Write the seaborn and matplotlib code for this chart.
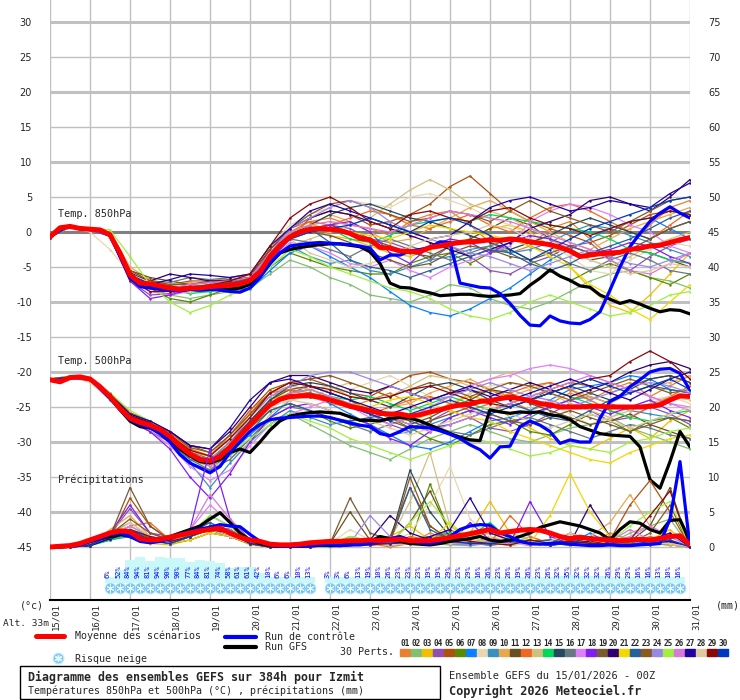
import numpy as np
import pandas as pd
import seaborn as sns
import matplotlib.pyplot as plt
from matplotlib.lines import Line2D
from matplotlib.patches import Rectangle
import matplotlib.transforms as mtransforms

# ---------------- data ----------------
hours_6h = np.arange(0, 385, 6)
hours_12h = np.arange(0, 385, 12)
date_labels = ['15/01', '16/01', '17/01', '18/01', '19/01', '20/01', '21/01', '22/01', '23/01',
               '24/01', '25/01', '26/01', '27/01', '28/01', '29/01', '30/01', '31/01']

t850_mean = [-0.7, 0.6, 0.8, 0.5, 0.4, 0.3, -0.4, -3.0, -6.1, -7.3, -7.4, -7.7, -8.0, -8.2, -8.0, -8.0,
             -7.8, -7.7, -7.6, -7.4, -6.9, -5.7, -3.5, -1.9, -0.7, 0.0, 0.4, 0.5, 0.4, 0.2, -0.2, -0.9,
             -1.1, -2.2, -2.3, -2.7, -2.8, -2.8, -2.2, -2.0, -1.7, -1.5, -1.4, -1.3, -1.1, -1.2, -1.0, -1.1,
             -1.4, -1.6, -1.8, -2.2, -2.7, -3.5, -3.3, -3.1, -3.0, -2.9, -2.5, -2.3, -2.0, -1.9, -1.5, -1.1, -0.8]
t850_control = [-0.7, 0.6, 0.8, 0.5, 0.4, 0.3, -0.5, -3.5, -6.5, -7.8, -8.0, -8.2, -8.3, -8.4, -8.2, -8.3,
                -8.2, -8.3, -8.5, -8.6, -8.0, -6.5, -4.5, -3.0, -2.0, -1.8, -1.6, -1.5, -1.6, -1.7, -1.8, -2.0,
                -2.3, -4.0, -3.3, -3.3, -2.7, -2.5, -2.2, -1.4, -1.5, -7.3, -7.6, -7.9, -8.0, -8.8, -10.2, -11.9,
                -13.3, -13.4, -12.0, -12.7, -13.0, -13.1, -12.5, -11.4, -8.3, -5.0, -2.1, -0.2, 1.5, 2.7, 3.6, 2.7, 2.0]
t850_gfs = [-0.7, 0.6, 0.8, 0.5, 0.4, 0.3, -0.5, -3.3, -6.5, -7.5, -7.8, -8.0, -8.2, -8.3, -8.2, -8.1,
            -8.0, -8.1, -8.2, -8.0, -7.5, -6.2, -4.5, -3.0, -2.5, -2.2, -2.0, -1.8, -1.7, -1.7, -1.9, -2.1,
            -2.8, -4.5, -7.3, -7.9, -8.0, -8.4, -8.7, -9.1, -9.0, -8.9, -8.9, -9.1, -9.2, -9.1, -9.0, -8.8,
            -7.6, -6.6, -5.4, -6.3, -6.9, -7.7, -7.9, -9.0, -9.6, -10.2, -9.8, -10.3, -10.9, -11.4, -11.1, -11.2, -11.7]

t500_mean = [-21.1, -21.4, -20.8, -20.7, -21.0, -22.1, -23.5, -25.2, -26.6, -27.2, -27.6, -28.2, -29.2, -30.6,
             -31.7, -32.5, -32.7, -32.1, -30.7, -29.1, -27.6, -26.1, -24.7, -23.9, -23.5, -23.4, -23.4, -23.6,
             -24.0, -24.4, -24.9, -25.2, -25.5, -25.9, -26.0, -26.0, -26.3, -26.1, -25.7, -25.4, -25.0, -24.7,
             -24.6, -24.2, -24.1, -23.8, -23.6, -23.8, -24.1, -24.5, -24.7, -25.0, -25.0, -25.0, -24.9, -24.9,
             -25.0, -25.0, -25.0, -25.0, -24.9, -24.7, -24.0, -23.4, -23.5]
t500_control = [-21.1, -21.4, -20.8, -20.7, -21.0, -22.2, -23.6, -25.3, -26.8, -27.5, -28.0, -28.8, -30.0, -31.8,
                -33.0, -33.7, -34.4, -33.5, -31.5, -30.0, -28.5, -27.5, -26.8, -26.6, -26.5, -26.4, -26.3, -26.3,
                -26.5, -26.9, -27.3, -27.6, -27.8, -28.8, -29.1, -28.5, -27.8, -27.9, -28.0, -28.4, -28.9, -29.5,
                -30.4, -31.1, -32.3, -30.7, -30.6, -27.8, -27.0, -27.6, -28.5, -30.2, -29.7, -30.0, -30.0, -26.6,
                -24.2, -23.5, -22.1, -21.1, -20.0, -19.6, -19.5, -20.2, -22.6]
t500_gfs = [-21.1, -21.4, -20.8, -20.7, -21.0, -22.2, -23.7, -25.4, -27.0, -27.8, -28.0, -28.5, -29.5, -31.0,
            -32.0, -32.8, -33.0, -32.5, -31.5, -31.0, -31.5, -30.0, -28.3, -27.0, -26.3, -26.0, -25.8, -25.7,
            -25.8, -25.9, -26.4, -26.9, -26.9, -27.0, -26.6, -26.5, -26.6, -27.0, -27.6, -28.2, -28.8, -29.3,
            -29.7, -29.8, -25.4, -25.7, -25.9, -25.7, -25.8, -25.7, -26.1, -26.3, -26.8, -27.8, -28.3, -28.8,
            -29.0, -29.1, -29.2, -30.7, -35.4, -36.6, -32.8, -28.5, -30.7]

precip_mean = [0.0, 0.1, 0.2, 0.5, 1.0, 1.5, 2.0, 2.3, 2.2, 1.2, 1.0, 1.1, 1.4, 1.7, 2.0, 2.3, 2.5, 2.7, 2.0, 1.4,
               1.0, 0.8, 0.4, 0.3, 0.3, 0.4, 0.6, 0.7, 0.8, 0.8, 0.9, 0.9, 1.0, 0.9, 1.0, 1.1, 0.9, 0.9, 0.9, 1.1,
               1.4, 1.6, 1.9, 2.2, 2.5, 2.0, 2.2, 2.4, 2.5, 2.4, 2.0, 1.5, 1.2, 1.4, 1.2, 1.1, 1.0, 0.9, 1.0, 1.1,
               1.0, 1.2, 1.5, 1.6, 0.3]
precip_control = [0.0, 0.0, 0.1, 0.3, 0.8, 1.2, 1.8, 2.0, 1.5, 0.8, 0.6, 0.8, 1.2, 1.8, 2.2, 2.6, 2.8, 3.2, 3.0,
                  2.9, 1.8, 0.8, 0.3, 0.1, 0.1, 0.1, 0.2, 0.3, 0.3, 0.2, 0.3, 0.3, 0.5, 0.8, 1.2, 1.5, 1.0, 0.6,
                  0.5, 0.8, 1.5, 2.5, 3.0, 3.2, 3.1, 2.0, 1.5, 0.8, 0.5, 0.4, 0.5, 0.6, 0.4, 0.3, 0.2, 0.2, 0.3,
                  0.2, 0.2, 0.3, 0.4, 0.5, 4.0, 12.2, 0.0]
precip_gfs = [0.0, 0.0, 0.1, 0.4, 0.8, 1.2, 1.5, 1.8, 1.5, 1.0, 0.8, 1.0, 1.5, 2.0, 2.5, 3.0, 4.0, 4.9, 3.5, 2.0,
              1.0, 0.5, 0.2, 0.1, 0.1, 0.1, 0.2, 0.3, 0.2, 0.2, 0.3, 0.5, 0.8, 1.5, 1.2, 0.8, 0.5, 0.4, 0.3, 0.5,
              0.8, 1.0, 1.2, 1.5, 1.0, 0.8, 1.0, 1.5, 2.0, 2.8, 3.2, 3.6, 3.3, 3.0, 2.5, 2.0, 1.0, 2.5, 3.6, 3.4,
              2.5, 2.0, 3.8, 3.9, 0.9]

pert_names = ['%02d' % i for i in range(1, 31)]
pert_colors = ['#e88030', '#80c070', '#f0c000', '#9050b0', '#b05010', '#5a8a00', '#0a80ff', '#e8d8b0',
               '#3890c0', '#e8a850', '#6a5020', '#f06820', '#d0c080', '#00d858', '#284860', '#687880',
               '#e080f8', '#8020f0', '#7a5a30', '#300070', '#f0d800', '#2a609a', '#8a5a20', '#9a88e8',
               '#a0f040', '#d878d8', '#2000a0', '#e0c8a0', '#8a0808', '#0038c0']

# 850 hPa members, every 12 h
t850_members = [
    [-0.8, 0.9, 0.5, -0.2, -5.5, -7.0, -8.5, -8.2, -7.5, -7.0, -6.0, -2.5, 0.5, 1.5, 2.0, 1.0, 0.5, -0.5, 1.5, 2.5, 3.0, 1.0, -1.5, -3.0, -2.0, 0.5, 1.5, -1.0, -3.5, -2.0, 1.0, 3.5, 4.5],
    [-0.6, 0.7, 0.3, -0.6, -6.5, -8.0, -9.0, -9.5, -9.0, -8.5, -8.0, -6.0, -4.0, -5.0, -6.5, -7.5, -9.0, -9.5, -10.0, -9.0, -7.5, -8.0, -9.5, -10.5, -11.0, -10.0, -8.5, -7.0, -6.0, -5.5, -6.5, -7.0, -8.0],
    [-0.7, 0.8, 0.4, -0.3, -6.0, -7.5, -7.8, -8.5, -8.0, -7.5, -7.2, -3.0, -0.5, 0.0, -0.5, -1.0, -2.0, -3.0, -3.5, -2.5, -1.5, -1.0, 0.5, 1.0, 0.0, -2.0, -5.0, -8.0, -10.5, -11.5, -9.0, -6.0, -3.0],
    [-0.7, 0.8, 0.3, -0.5, -7.0, -9.0, -8.8, -8.0, -7.6, -7.4, -6.5, -3.5, -1.0, 0.5, 1.0, 0.5, -1.0, -1.5, -2.5, -4.0, -2.0, -3.5, -5.5, -6.0, -4.5, -3.5, -2.0, -1.5, -4.0, -5.5, -3.5, -2.0, -1.0],
    [-0.8, 0.9, 0.5, -0.2, -5.8, -7.2, -7.5, -7.0, -7.0, -7.3, -7.0, -4.0, -1.0, 2.0, 3.0, 2.5, 1.0, 1.5, 2.5, 4.0, 6.5, 8.0, 5.5, 3.0, 1.5, 0.5, -0.5, -1.5, -0.5, 1.0, 2.5, 3.0, 2.5],
    [-0.7, 0.8, 0.4, -0.4, -6.2, -8.0, -9.5, -10.0, -9.0, -8.0, -7.5, -5.0, -3.0, -4.0, -5.0, -5.5, -6.0, -6.0, -4.5, -3.5, -3.0, -4.5, -3.0, -2.5, -4.0, -5.5, -7.0, -5.5, -4.5, -5.5, -6.5, -7.5, -6.0],
    [-0.7, 0.7, 0.3, -0.6, -6.5, -7.8, -8.2, -8.5, -8.5, -8.0, -8.2, -5.5, -3.0, -2.0, -3.5, -5.0, -6.5, -8.5, -10.5, -11.5, -12.0, -11.0, -9.5, -8.0, -6.0, -4.0, -2.5, -1.0, 0.5, 1.5, 2.0, 0.5, -1.0],
    [-0.6, 0.6, 0.0, -2.5, -6.0, -7.0, -7.5, -7.5, -7.3, -7.0, -6.5, -2.0, 1.0, 2.5, 3.5, 4.5, 4.0, 3.5, 5.0, 5.5, 4.5, 3.5, 2.0, 1.0, -0.5, -2.0, -3.5, -5.5, -6.0, -4.0, -2.5, -1.5, -2.0],
    [-0.7, 0.8, 0.4, -0.3, -6.0, -7.3, -8.0, -7.8, -7.5, -7.7, -7.0, -4.0, -2.0, -3.5, -4.5, -4.0, -5.5, -6.0, -5.0, -4.0, -3.5, -2.5, -2.0, -3.0, -2.5, -1.5, 0.0, 1.0, 0.5, -0.5, -1.5, -2.5, -3.5],
    [-0.8, 0.9, 0.5, -0.1, -5.0, -6.8, -7.5, -7.2, -7.0, -6.5, -6.2, -2.5, 0.0, 1.0, 2.5, 1.5, 0.0, -1.5, -1.0, 0.5, 2.0, 3.5, 4.5, 3.0, 1.5, 0.0, -1.5, -2.5, -1.0, 0.5, 1.5, 2.5, 3.5],
    [-0.7, 0.8, 0.4, -0.5, -5.5, -6.5, -7.0, -7.5, -7.0, -6.8, -6.5, -3.0, -0.5, 0.5, 1.0, 0.0, -1.0, -2.0, -3.0, -3.5, -2.0, -1.0, 0.5, 2.0, 1.0, -1.0, -2.5, -4.0, -3.5, -2.5, -3.0, -4.0, -5.0],
    [-0.7, 0.8, 0.4, -0.4, -6.0, -7.5, -8.0, -7.8, -8.0, -7.5, -7.0, -3.5, 0.0, 1.5, 1.0, 2.0, 3.0, 2.5, 1.0, 0.5, 1.5, 2.5, 1.0, 0.0, 2.0, 3.5, 4.0, 3.0, 1.5, 0.0, -1.0, 1.0, 3.0],
    [-0.6, 0.7, 0.3, -0.5, -6.5, -8.0, -8.5, -8.0, -7.5, -7.0, -7.0, -4.5, -2.0, -1.0, 0.0, 1.0, 2.0, 4.0, 6.0, 7.5, 6.0, 4.0, 3.0, 2.0, 0.5, -1.0, -2.5, -4.0, -5.0, -3.5, -2.0, -1.0, 0.0],
    [-0.7, 0.8, 0.4, -0.4, -6.3, -7.6, -8.3, -8.8, -8.5, -7.8, -7.0, -3.0, 0.0, 1.0, 0.5, -1.0, -1.5, -0.5, 1.0, 1.5, 2.0, 1.5, 2.5, 2.0, 1.5, 1.0, 0.5, 0.0, -1.0, -2.5, -3.0, -4.0, -4.5],
    [-0.7, 0.8, 0.4, -0.3, -5.8, -7.3, -7.7, -7.9, -7.6, -7.4, -6.8, -3.2, -0.5, 1.0, 2.5, 3.5, 4.0, 3.0, 2.0, 1.5, 0.5, -0.5, -1.5, -2.5, -1.5, -0.5, 1.0, 2.0, 1.0, 0.0, -1.0, 0.5, 1.5],
    [-0.7, 0.8, 0.4, -0.4, -6.0, -7.0, -7.2, -6.5, -6.8, -6.5, -6.0, -3.0, -1.0, -1.5, -2.5, -3.5, -2.0, -1.0, -2.0, -3.0, -4.0, -3.0, -2.0, -1.0, -2.0, -3.0, -4.5, -5.5, -4.0, -3.0, -4.0, -5.5, -6.0],
    [-0.7, 0.8, 0.4, -0.5, -6.8, -8.5, -9.0, -8.5, -8.0, -7.5, -7.0, -4.0, -1.5, -2.0, -3.0, -4.5, -5.0, -4.0, -5.5, -6.5, -5.0, -4.0, -3.0, -2.0, 1.5, 3.0, 4.0, 3.5, 2.5, 1.0, 0.0, -2.0, -3.0],
    [-0.8, 0.8, 0.3, -0.6, -7.0, -9.5, -9.0, -8.2, -7.8, -7.5, -7.2, -4.0, -1.0, 0.5, 1.0, 1.5, 0.0, -3.0, -4.5, -2.0, -1.0, -1.5, -3.0, -1.5, -0.5, -1.0, -2.0, -3.0, -2.5, -1.5, -2.0, -3.5, -4.5],
    [-0.7, 0.8, 0.4, -0.4, -6.0, -7.5, -8.5, -8.0, -7.5, -7.2, -6.8, -3.5, -1.0, 0.0, -0.5, -1.5, -3.0, -4.0, -5.0, -4.5, -3.0, -2.0, -2.5, -3.5, -4.0, -3.0, -2.0, -3.0, -3.5, -2.5, -1.0, 0.5, 1.5],
    [-0.7, 0.8, 0.4, -0.3, -6.0, -7.0, -6.0, -6.5, -7.0, -7.0, -6.5, -2.5, 0.5, 2.0, 3.0, 2.5, 1.5, 0.5, -0.5, -1.5, -2.5, -3.5, -2.5, -1.5, 0.5, 1.5, 2.5, 4.5, 5.0, 4.0, 3.0, 5.0, 7.5],
    [-0.7, 0.8, 0.4, -0.4, -6.1, -7.4, -8.0, -8.2, -7.8, -7.6, -6.8, -3.0, 0.0, 1.0, 0.5, 0.0, -0.5, -1.0, 0.0, 1.0, 0.5, 0.0, -0.5, -1.0, -2.0, -3.5, -5.0, -7.5, -9.0, -11.0, -12.5, -10.0, -7.5],
    [-0.7, 0.8, 0.4, -0.4, -6.0, -7.3, -7.8, -8.0, -7.7, -7.3, -6.7, -3.3, -0.5, 0.5, -1.5, -4.0, -5.0, -5.5, -6.5, -5.5, -4.5, -3.5, -2.5, -3.0, -4.5, -5.5, -4.5, -3.0, -2.0, -1.0, 0.5, 2.0, 3.0],
    [-0.7, 0.8, 0.4, -0.4, -5.5, -7.0, -7.5, -7.5, -7.2, -7.0, -6.5, -2.5, 0.5, 2.5, 4.0, 4.5, 3.5, 2.5, 1.5, 2.0, 3.0, 2.5, 1.5, 3.0, 4.5, 3.0, 2.0, 1.0, 0.0, 1.5, 3.0, 4.5, 5.0],
    [-0.7, 0.8, 0.4, -0.4, -6.4, -7.8, -8.3, -8.0, -7.8, -7.5, -7.0, -3.0, 0.5, 2.0, 3.5, 4.5, 3.5, 1.5, 0.0, -1.0, -2.0, -3.0, -3.5, -4.5, -5.5, -4.5, -3.5, -2.5, -3.5, -4.5, -5.0, -4.0, -3.0],
    [-0.7, 0.8, 0.6, 0.3, -3.5, -7.5, -10.0, -11.5, -10.5, -9.0, -8.0, -5.0, -2.5, -3.5, -5.0, -6.0, -7.0, -8.0, -8.5, -9.5, -11.0, -12.0, -12.5, -11.5, -10.0, -9.0, -10.0, -11.0, -12.0, -11.5, -10.5, -9.0, -8.5],
    [-0.7, 0.8, 0.4, -0.4, -6.3, -7.8, -8.0, -7.5, -7.2, -7.0, -6.5, -3.0, 0.0, 1.0, 1.5, 1.0, 0.5, 0.0, 1.0, 2.0, 3.0, 2.5, 2.0, 1.5, 0.5, -0.5, -1.5, -2.5, -4.0, -5.5, -6.0, -4.5, -3.0],
    [-0.7, 0.8, 0.4, -0.3, -5.8, -7.5, -6.8, -6.0, -6.2, -6.5, -6.0, -2.0, 0.5, 3.0, 4.0, 3.0, 2.0, 1.0, 0.0, -1.0, -0.5, 1.5, 3.5, 4.5, 5.0, 4.0, 3.0, 3.5, 4.5, 4.0, 3.5, 5.5, 7.0],
    [-0.7, 0.8, 0.4, -0.4, -6.0, -7.2, -8.0, -8.5, -8.0, -7.5, -7.0, -3.5, -1.0, -3.0, -4.0, -5.0, -4.5, -3.5, -2.0, -1.0, -0.5, 0.0, 1.0, 0.5, -1.0, -2.0, -3.0, -4.0, -5.0, -6.0, -5.5, -4.5, -5.0],
    [-0.8, 0.9, 0.5, -0.5, -6.8, -8.5, -8.5, -8.0, -7.6, -7.0, -6.0, -2.0, 2.0, 4.0, 5.0, 3.5, 1.5, 0.5, 2.5, 3.0, 2.0, 1.5, 3.0, 3.5, 2.0, 1.0, 0.5, -0.5, 0.5, 1.5, 2.0, 3.0, 2.5],
    [-0.7, 0.8, 0.4, -0.4, -6.1, -7.5, -8.0, -8.0, -7.8, -7.7, -7.0, -3.5, -1.0, 0.0, 0.5, 1.0, 2.0, 1.0, 0.0, 1.5, 2.0, 1.0, -0.5, -2.5, -4.0, -2.5, -1.0, 0.5, 1.5, 2.5, 3.5, 4.5, 5.0],
]

# 500 hPa members, every 12 h
t500_members = [
    [-21.0, -20.7, -21.2, -23.0, -26.0, -27.5, -29.5, -31.5, -32.0, -29.5, -26.0, -23.5, -22.5, -23.5, -24.5, -25.0, -24.0, -23.0, -24.5, -26.0, -25.0, -23.0, -22.5, -24.0, -25.5, -24.5, -23.0, -24.0, -22.5, -21.5, -23.5, -22.0, -20.5],
    [-21.2, -20.9, -21.0, -23.8, -27.0, -28.0, -30.0, -32.5, -33.5, -32.0, -29.5, -27.0, -26.0, -27.5, -29.0, -30.5, -31.5, -32.5, -31.0, -29.5, -28.5, -27.5, -28.5, -29.5, -30.0, -29.0, -28.0, -27.5, -26.5, -28.0, -29.0, -30.0, -31.0],
    [-21.1, -20.8, -21.1, -23.5, -26.5, -27.8, -29.0, -31.0, -32.5, -30.0, -27.0, -24.0, -23.0, -22.5, -23.5, -24.5, -25.5, -26.5, -27.0, -26.0, -24.5, -23.5, -24.0, -26.5, -28.0, -29.5, -30.5, -31.0, -29.5, -28.0, -29.5, -27.0, -25.5],
    [-21.1, -20.8, -21.0, -23.8, -27.0, -28.5, -30.0, -33.0, -34.0, -31.5, -28.0, -24.5, -23.0, -22.0, -23.0, -24.0, -26.0, -27.5, -28.5, -27.0, -25.5, -26.5, -28.0, -28.5, -27.5, -26.0, -24.5, -25.5, -27.0, -26.5, -25.0, -26.0, -27.5],
    [-21.0, -20.6, -20.9, -23.0, -25.8, -27.0, -28.5, -30.5, -31.5, -29.0, -25.5, -22.5, -21.5, -21.0, -22.0, -23.0, -23.5, -22.0, -20.5, -20.0, -21.0, -21.5, -22.5, -23.5, -24.0, -22.5, -21.5, -22.0, -23.0, -22.0, -21.0, -20.5, -21.5],
    [-21.1, -20.8, -21.0, -23.6, -26.8, -28.0, -30.0, -32.0, -33.0, -31.0, -28.5, -25.5, -24.5, -25.5, -27.0, -28.0, -27.5, -26.5, -28.0, -29.5, -30.5, -29.0, -27.5, -27.0, -28.5, -29.0, -27.5, -26.0, -27.0, -28.5, -27.0, -26.5, -28.0],
    [-21.1, -20.9, -21.1, -23.5, -26.5, -27.5, -29.5, -32.5, -33.0, -31.5, -29.0, -26.5, -24.0, -23.0, -24.5, -26.0, -27.5, -29.0, -30.5, -31.0, -30.0, -28.5, -27.0, -26.5, -25.5, -24.0, -22.5, -22.0, -21.5, -20.5, -21.0, -22.5, -23.0],
    [-21.0, -20.7, -21.5, -24.0, -26.0, -27.0, -29.0, -32.0, -33.5, -31.0, -27.5, -23.0, -21.5, -22.0, -23.0, -22.5, -21.5, -20.5, -22.0, -23.5, -24.5, -23.0, -22.0, -21.5, -22.5, -24.5, -26.0, -27.5, -26.5, -25.0, -24.0, -23.5, -24.5],
    [-21.1, -20.8, -21.0, -23.5, -26.7, -28.0, -29.5, -33.0, -36.5, -33.0, -30.0, -27.5, -25.5, -26.5, -27.5, -27.0, -28.0, -29.0, -28.5, -27.5, -26.5, -25.5, -26.0, -27.0, -26.5, -25.0, -24.0, -23.5, -24.5, -25.5, -26.0, -26.5, -27.0],
    [-21.0, -20.6, -20.9, -23.2, -26.0, -27.2, -28.8, -31.0, -32.0, -29.5, -26.0, -23.0, -22.0, -22.5, -22.0, -23.5, -24.0, -25.0, -24.5, -23.0, -22.0, -21.0, -22.5, -23.5, -22.5, -21.5, -22.5, -23.5, -24.5, -23.0, -22.0, -21.5, -20.5],
    [-21.1, -20.8, -21.1, -23.6, -26.5, -27.5, -29.0, -31.5, -32.5, -30.0, -27.0, -24.0, -22.5, -22.0, -23.0, -24.0, -25.5, -26.5, -27.5, -26.5, -25.0, -24.0, -22.5, -23.0, -24.5, -25.5, -26.5, -27.5, -27.0, -26.0, -27.5, -28.5, -29.5],
    [-21.1, -20.8, -21.0, -23.5, -26.0, -27.0, -28.5, -31.0, -32.0, -29.0, -25.5, -23.0, -22.5, -23.0, -23.5, -25.0, -26.0, -25.0, -24.0, -23.5, -24.5, -25.5, -24.5, -23.0, -22.0, -21.5, -22.5, -24.0, -25.5, -26.5, -25.0, -23.5, -22.0],
    [-21.1, -20.8, -21.0, -23.7, -26.8, -28.0, -29.5, -32.0, -33.5, -32.5, -30.0, -26.0, -24.0, -23.5, -22.5, -21.5, -22.5, -23.5, -22.0, -20.5, -21.0, -22.0, -21.0, -20.0, -21.5, -23.0, -24.5, -25.5, -26.5, -25.5, -24.5, -23.5, -24.0],
    [-21.1, -20.8, -21.1, -23.6, -26.6, -27.8, -29.5, -32.0, -33.0, -31.0, -27.5, -24.5, -23.0, -22.5, -23.5, -24.0, -23.5, -24.5, -25.5, -24.5, -23.5, -24.5, -25.5, -24.5, -23.5, -22.5, -23.5, -24.5, -25.5, -26.5, -27.0, -26.0, -25.5],
    [-21.1, -20.8, -21.0, -23.5, -26.5, -27.5, -29.2, -31.5, -32.5, -30.5, -27.0, -24.0, -22.0, -21.5, -22.0, -23.0, -24.0, -25.0, -23.5, -22.0, -21.5, -22.5, -24.0, -25.0, -24.0, -23.0, -22.0, -23.0, -24.0, -22.5, -21.0, -20.5, -21.5],
    [-21.1, -20.9, -21.1, -23.7, -26.8, -28.0, -30.0, -32.5, -34.0, -32.5, -29.5, -26.5, -25.0, -25.5, -26.5, -27.5, -28.5, -27.5, -26.5, -27.5, -28.5, -29.0, -28.0, -27.0, -26.5, -27.5, -28.5, -29.5, -28.5, -27.5, -28.0, -29.0, -29.5],
    [-21.1, -20.8, -21.0, -23.9, -27.2, -28.5, -30.5, -33.5, -35.5, -34.0, -30.5, -27.5, -26.0, -25.0, -24.0, -25.0, -26.5, -27.5, -26.5, -25.0, -23.5, -22.0, -21.0, -20.5, -19.5, -19.0, -19.5, -20.5, -21.5, -22.5, -23.5, -24.5, -25.0],
    [-21.2, -20.9, -21.2, -24.0, -27.0, -28.5, -31.0, -35.0, -38.0, -34.5, -30.0, -26.5, -25.0, -24.5, -25.5, -26.5, -27.5, -29.5, -30.5, -28.5, -26.5, -25.5, -26.5, -27.5, -26.0, -25.0, -24.0, -25.0, -26.0, -25.0, -24.0, -25.5, -26.5],
    [-21.1, -20.8, -21.1, -23.5, -26.4, -27.5, -29.2, -31.5, -32.5, -30.5, -27.5, -24.5, -23.5, -23.0, -24.0, -25.0, -26.0, -27.0, -28.0, -27.0, -26.0, -25.0, -26.0, -27.0, -27.5, -26.5, -25.5, -26.5, -27.5, -28.5, -27.5, -26.5, -27.0],
    [-21.0, -20.7, -21.0, -23.3, -26.2, -27.2, -28.5, -30.5, -31.0, -28.5, -25.0, -21.5, -20.5, -20.5, -21.5, -22.5, -23.0, -22.0, -23.0, -24.0, -23.0, -22.5, -23.5, -22.5, -21.5, -22.5, -23.5, -22.5, -21.5, -20.0, -19.0, -18.5, -19.5],
    [-21.1, -20.8, -21.0, -23.5, -26.6, -27.6, -29.2, -31.8, -32.8, -30.8, -27.8, -24.8, -23.5, -23.5, -24.0, -24.5, -25.0, -24.0, -23.5, -24.5, -25.5, -26.5, -27.0, -28.5, -29.5, -30.5, -31.5, -32.5, -33.0, -31.5, -30.5, -29.5, -29.0],
    [-21.1, -20.8, -21.0, -23.6, -26.6, -27.8, -29.5, -32.0, -33.0, -31.0, -28.0, -25.5, -24.5, -25.5, -26.5, -27.0, -26.5, -26.0, -27.0, -28.0, -27.5, -26.5, -25.5, -24.5, -25.5, -26.5, -27.0, -25.5, -24.0, -23.0, -22.0, -22.5, -23.0],
    [-21.0, -20.7, -20.9, -23.2, -26.0, -27.0, -28.6, -30.8, -31.5, -29.0, -26.0, -23.0, -21.5, -21.0, -20.5, -21.5, -22.5, -23.5, -22.5, -21.5, -22.5, -23.5, -22.5, -21.5, -22.0, -23.0, -24.0, -23.0, -22.0, -21.0, -22.0, -23.0, -22.5],
    [-21.1, -20.8, -21.0, -23.4, -26.4, -27.4, -29.0, -31.5, -32.5, -30.0, -26.5, -23.5, -22.0, -20.5, -20.0, -20.0, -21.0, -22.0, -23.0, -24.0, -23.5, -22.5, -21.5, -22.5, -23.5, -24.0, -25.0, -24.0, -23.0, -22.0, -21.5, -22.0, -23.0],
    [-21.0, -20.6, -20.8, -23.0, -25.5, -27.0, -29.0, -32.0, -33.0, -31.5, -29.5, -27.5, -26.0, -27.0, -28.0, -29.5, -30.5, -31.5, -32.5, -31.5, -30.5, -29.5, -30.0, -31.0, -32.0, -31.5, -30.5, -31.0, -31.5, -30.0, -29.5, -28.5, -28.0],
    [-21.1, -20.8, -21.0, -23.5, -26.5, -27.5, -29.0, -31.5, -33.5, -31.5, -28.0, -24.5, -23.0, -22.5, -23.5, -24.5, -25.5, -26.5, -27.5, -28.5, -27.5, -26.5, -25.5, -24.5, -23.5, -22.5, -21.5, -20.5, -21.5, -22.5, -23.5, -24.5, -25.5],
    [-21.0, -20.7, -20.9, -23.2, -26.0, -27.0, -28.5, -30.5, -31.0, -28.0, -24.0, -21.5, -21.0, -22.0, -23.0, -24.0, -25.0, -26.0, -25.0, -24.0, -23.0, -22.0, -23.0, -24.0, -23.0, -22.0, -21.0, -22.0, -23.0, -24.0, -22.5, -21.0, -20.0],
    [-21.1, -20.8, -21.0, -23.6, -26.7, -27.8, -29.5, -32.0, -33.0, -31.0, -28.0, -25.0, -24.0, -24.5, -25.5, -26.5, -27.0, -28.0, -29.0, -28.0, -27.0, -26.0, -25.0, -26.0, -27.0, -28.0, -27.0, -26.0, -27.0, -28.0, -27.0, -26.0, -25.0],
    [-21.1, -20.8, -21.0, -23.5, -26.3, -27.3, -29.0, -31.2, -32.0, -29.5, -26.5, -23.0, -21.5, -22.0, -22.5, -23.5, -24.0, -23.5, -22.5, -22.0, -23.0, -24.0, -24.5, -25.0, -24.0, -23.0, -22.0, -21.0, -20.5, -18.5, -17.0, -18.5, -21.0],
    [-21.1, -20.8, -21.0, -23.5, -26.5, -27.6, -29.2, -31.7, -32.8, -30.7, -27.6, -24.7, -23.5, -23.5, -24.0, -25.0, -26.0, -27.0, -26.0, -25.0, -24.0, -25.0, -26.0, -25.0, -24.0, -23.0, -22.0, -21.0, -22.0, -23.0, -22.0, -21.0, -22.5],
]

# precipitation members (mm), every 12 h
precip_members = [
    [0, 0, 0.3, 1.5, 2.5, 1.0, 0.5, 1.5, 3.0, 2.0, 0.5, 0, 0, 0, 0.5, 1.0, 0.5, 0.0, 0.5, 2.0, 1.0, 0.5, 1.5, 0.5, 0.3, 1.0, 0.5, 0.3, 2.0, 1.0, 0.5, 1.5, 0],
    [0, 0, 0.5, 2.0, 3.5, 1.5, 1.0, 2.0, 2.5, 1.5, 0.5, 0, 0, 0, 0, 0.5, 0.3, 0.5, 1.0, 0.5, 0.3, 0.2, 0.5, 0.5, 1.5, 0.5, 0.3, 1.0, 0.5, 2.0, 3.0, 4.0, 0],
    [0, 0, 0.2, 1.0, 2.0, 0.5, 0.3, 1.0, 2.0, 1.5, 0.3, 0, 0, 0, 0.3, 0.5, 1.0, 1.5, 3.0, 1.0, 0.5, 2.0, 6.5, 2.0, 1.0, 0.5, 0.3, 0.5, 1.5, 0.5, 1.0, 2.5, 0],
    [0, 0, 0.4, 1.8, 5.5, 2.0, 1.5, 2.5, 3.5, 2.0, 0.5, 0, 0, 0, 0.2, 1.5, 0.8, 0.5, 1.0, 1.5, 1.0, 0.5, 0.3, 0.5, 0.8, 1.0, 0.5, 0.3, 1.0, 0.5, 0.8, 1.0, 0],
    [0, 0, 0.3, 1.2, 7.0, 3.0, 1.0, 1.5, 2.5, 1.5, 0.5, 0, 0, 0, 0.3, 0.5, 0.3, 1.5, 8.5, 3.0, 1.0, 1.5, 2.0, 1.0, 0.5, 0.3, 1.5, 0.5, 1.0, 6.0, 9.5, 5.0, 0],
    [0, 0, 0.2, 1.5, 3.0, 1.5, 0.8, 1.8, 3.0, 2.5, 0.8, 0, 0, 0, 0.5, 1.0, 0.5, 0.3, 0.5, 9.0, 2.0, 1.0, 0.5, 0.8, 0.5, 0.3, 0.5, 0.3, 0.5, 1.0, 0.5, 0.3, 0],
    [0, 0, 0.3, 1.0, 2.5, 1.0, 0.5, 1.5, 4.5, 3.0, 0.5, 0, 0, 0, 0.3, 0.8, 0.5, 0.5, 0.8, 1.5, 2.0, 1.0, 0.5, 0.3, 0.5, 1.0, 0.5, 2.0, 0.5, 0.3, 0.5, 0.8, 0],
    [0, 0, 0.5, 1.5, 2.0, 1.0, 1.0, 2.0, 3.5, 2.0, 1.0, 0, 0, 0, 0.5, 2.5, 1.0, 0.5, 2.0, 6.0, 11.5, 4.0, 1.5, 1.0, 0.5, 0.5, 0.8, 0.5, 1.0, 0.5, 0.5, 0.5, 0],
    [0, 0, 0.2, 1.0, 1.5, 0.8, 0.5, 2.0, 3.0, 2.0, 0.5, 0, 0, 0, 0.2, 0.5, 0.3, 0.5, 1.0, 0.8, 0.5, 0.3, 0.5, 0.8, 1.0, 0.5, 0.3, 0.5, 0.8, 1.0, 0.5, 0.8, 0],
    [0, 0, 0.3, 2.5, 4.5, 1.5, 0.8, 1.5, 2.5, 1.5, 0.5, 0, 0, 0, 0.3, 0.8, 0.5, 0.3, 0.5, 1.0, 0.8, 1.5, 2.0, 1.0, 0.5, 0.5, 0.8, 1.5, 3.5, 7.5, 3.0, 1.5, 0],
    [0, 0, 0.2, 1.5, 2.5, 1.0, 0.5, 1.0, 2.0, 1.5, 0.5, 0, 0, 0, 0.5, 5.0, 1.0, 0.5, 3.5, 8.0, 2.0, 0.8, 0.5, 0.5, 0.5, 0.3, 0.5, 0.3, 0.5, 0.8, 3.0, 8.5, 0],
    [0, 0, 0.3, 1.5, 3.0, 3.5, 1.0, 1.5, 2.5, 2.0, 0.5, 0, 0, 0, 0.2, 0.5, 0.3, 0.5, 1.5, 1.0, 2.5, 1.0, 0.5, 4.5, 1.5, 0.5, 0.3, 0.5, 0.8, 0.5, 1.5, 0.8, 0],
    [0, 0, 0.3, 1.2, 2.0, 1.0, 0.5, 1.5, 2.5, 1.5, 0.5, 0, 0, 0, 0.3, 0.8, 0.5, 1.0, 6.5, 13.5, 3.0, 1.0, 0.5, 0.5, 0.3, 0.5, 0.3, 0.5, 0.5, 0.3, 0.5, 0.5, 0],
    [0, 0, 0.2, 1.0, 1.8, 1.5, 0.5, 1.5, 3.0, 2.0, 0.8, 0, 0, 0, 0.2, 0.5, 0.3, 0.5, 0.5, 1.0, 2.0, 1.5, 3.5, 1.0, 0.5, 0.3, 0.5, 0.3, 0.5, 1.0, 0.5, 0.8, 0],
    [0, 0, 0.3, 1.5, 2.5, 1.2, 0.8, 1.5, 3.0, 2.5, 0.5, 0, 0, 0, 0.3, 0.5, 0.5, 0.8, 11.0, 5.0, 1.5, 0.8, 0.5, 0.3, 0.5, 0.5, 0.3, 0.5, 0.8, 0.5, 0.3, 0.5, 0],
    [0, 0, 0.4, 1.5, 2.5, 1.0, 0.5, 1.5, 2.5, 1.5, 0.5, 0, 0, 0, 0.5, 0.8, 0.5, 0.5, 1.0, 1.5, 1.0, 0.5, 0.8, 0.5, 0.8, 0.5, 0.3, 0.5, 0.5, 0.3, 0.5, 0.8, 0],
    [0, 0, 0.3, 1.8, 3.0, 1.5, 1.0, 2.5, 6.0, 3.5, 1.0, 0, 0, 0, 0.3, 0.5, 0.5, 0.3, 0.5, 0.8, 0.5, 1.0, 0.8, 0.5, 0.5, 0.3, 0.5, 0.5, 0.8, 1.5, 3.0, 1.5, 0],
    [0, 0, 0.3, 2.0, 6.0, 2.0, 1.0, 2.5, 14.0, 4.0, 1.0, 0, 0, 0, 0.3, 0.5, 0.5, 0.5, 1.0, 0.5, 0.5, 3.5, 1.0, 0.5, 6.5, 1.5, 0.5, 0.3, 0.5, 0.8, 0.5, 0.5, 0],
    [0, 0, 0.3, 1.5, 8.5, 3.0, 1.0, 1.5, 3.0, 2.0, 0.5, 0, 0, 0, 0.5, 7.0, 2.0, 1.0, 0.5, 1.0, 1.5, 0.5, 0.3, 0.5, 1.0, 0.5, 2.0, 1.0, 0.5, 0.8, 0.5, 0.3, 0],
    [0, 0, 0.2, 1.2, 2.0, 1.0, 0.5, 1.5, 2.5, 1.5, 0.5, 0, 0, 0, 0.3, 0.5, 1.0, 4.5, 2.0, 1.0, 0.5, 0.5, 0.8, 1.0, 0.5, 0.3, 0.5, 6.0, 1.5, 0.5, 1.0, 2.0, 0],
    [0, 0, 0.3, 1.5, 2.5, 1.0, 0.5, 1.0, 2.0, 1.5, 0.5, 0, 0, 0, 0.2, 0.3, 0.5, 0.5, 0.8, 1.0, 3.5, 1.0, 0.5, 0.3, 0.5, 4.5, 10.5, 5.0, 1.5, 0.8, 0.5, 0.3, 0],
    [0, 0, 0.3, 1.5, 2.5, 1.5, 0.8, 2.0, 3.5, 2.0, 0.5, 0, 0, 0, 0.3, 0.5, 0.3, 0.8, 8.5, 2.5, 1.0, 0.5, 0.3, 0.5, 0.8, 1.0, 0.5, 0.8, 1.5, 0.5, 0.3, 0.5, 0],
    [0, 0, 0.4, 1.8, 4.0, 2.0, 1.0, 1.5, 2.5, 1.5, 0.5, 0, 0, 0, 0.3, 0.8, 0.5, 0.5, 10.0, 3.0, 1.0, 0.5, 0.8, 0.5, 0.3, 0.5, 1.0, 0.5, 0.3, 0.5, 2.0, 6.0, 0],
    [0, 0, 0.3, 1.5, 2.0, 1.0, 0.8, 1.5, 3.0, 2.5, 0.8, 0, 0, 0, 0.3, 0.5, 4.5, 1.5, 0.8, 1.0, 0.5, 0.3, 0.5, 0.8, 0.5, 0.3, 0.5, 0.3, 0.5, 0.8, 0.5, 0.5, 0],
    [0, 0, 0.3, 1.5, 2.5, 1.0, 0.5, 2.0, 4.5, 3.0, 0.5, 0, 0, 0, 0.5, 1.5, 1.0, 0.5, 3.5, 6.5, 3.0, 1.5, 0.5, 0.5, 0.8, 0.5, 0.3, 0.5, 0.8, 3.0, 5.0, 6.5, 0],
    [0, 0, 0.3, 1.5, 2.5, 1.0, 0.5, 2.5, 7.5, 4.0, 0.8, 0, 0, 0, 0.2, 0.5, 0.3, 0.5, 0.8, 1.0, 0.5, 0.5, 0.8, 0.5, 0.3, 0.5, 0.5, 0.3, 0.8, 2.5, 1.0, 0.5, 0],
    [0, 0, 0.2, 1.2, 2.0, 1.0, 0.5, 1.5, 3.0, 2.0, 0.5, 0, 0, 0, 0.3, 0.5, 0.8, 0.5, 0.5, 1.5, 2.5, 7.0, 2.0, 1.0, 0.5, 0.3, 0.5, 0.8, 0.5, 0.3, 0.5, 0.8, 0],
    [0, 0, 0.3, 1.5, 3.5, 1.5, 0.5, 1.5, 2.5, 1.5, 0.5, 0, 0, 0, 0.3, 0.5, 0.5, 0.3, 0.5, 0.8, 0.5, 1.0, 0.5, 0.3, 0.5, 0.8, 2.0, 1.0, 0.5, 0.3, 0.5, 0.5, 0],
    [0, 0, 0.3, 1.5, 2.5, 1.5, 0.8, 1.5, 2.5, 2.0, 0.5, 0, 0, 0, 0.3, 0.5, 0.3, 0.5, 1.0, 0.8, 1.5, 0.8, 0.5, 0.3, 1.0, 0.5, 0.8, 0.5, 0.5, 1.0, 4.5, 8.0, 0],
    [0, 0, 0.3, 1.5, 2.5, 1.0, 0.5, 1.5, 3.0, 2.0, 0.5, 0, 0, 0, 0.3, 0.5, 0.5, 0.5, 0.8, 1.0, 0.8, 0.5, 0.5, 0.8, 0.5, 0.3, 0.5, 1.5, 0.5, 0.3, 0.8, 1.0, 0],
]

# snow risk (%), every 6 h
snow_hours = list(range(36, 157, 6)) + list(range(168, 379, 6))
snow_pct = [6, 52, 84, 94, 81, 94, 90, 90, 77, 84, 81, 74, 58, 61, 61, 42, 10, 6, 6, 10, 13,
            3, 3, 6, 13, 19, 10, 26, 23, 23, 23, 19, 19, 29, 23, 29, 16, 26, 23, 26, 19, 26, 23, 26,
            32, 35, 32, 32, 32, 26, 29, 29, 16, 16, 13, 10, 16]


def members_frame(members):
    rows = []
    for name, vals in zip(pert_names, members):
        rows.append(pd.DataFrame({'hour': hours_12h, 'value': vals, 'member': name}))
    return pd.concat(rows, ignore_index=True)


# ---------------- figure ----------------
sns.set_style('white')
plt.rcParams['font.family'] = ['DejaVu Sans']
MONO = 'DejaVu Sans Mono'

W, H = 740, 700
fig = plt.figure(figsize=(W / 100, H / 100), dpi=100)


def fx(px):
    return px / W


def fy(py):
    return 1 - py / H


ax = fig.add_axes([fx(50), fy(600), 640 / W, 600 / H])
ylo, yhi = (232 - 600) / 7, 232 / 7
ax.set_xlim(0, 384)
ax.set_ylim(ylo, yhi)
# precipitation shares the panel: 0 mm sits on the -45 degC line
ax2 = ax.twinx()
ax2.set_ylim(ylo + 45, yhi + 45)

# grid
for v in range(-45, 31, 5):
    if v == 0:
        ax.axhline(v, color='#808080', lw=2.2, zorder=1)
    elif v % 10 == 0:
        ax.axhline(v, color='#c0c0c0', lw=2.2, zorder=0)
    else:
        ax.axhline(v, color='#c0c0c0', lw=1.0, zorder=0)
for h in range(0, 385, 24):
    ax.axvline(h, color='#c0c0c0', lw=1.0, zorder=0)

# snow risk band
bar_h = [(6 + max(0, p - 30) * 0.32) / 7 for p in snow_pct]
ax.bar(snow_hours, bar_h, width=6, bottom=(232 - 583) / 7, color='#c8f8f8', zorder=1, linewidth=0)
ax.scatter(snow_hours, [(232 - 587.5) / 7] * len(snow_hours), s=60, marker='o',
           color='#78c4ee', edgecolor='#b8e8ff', linewidth=0.6, zorder=3)
ax.scatter(snow_hours, [(232 - 587.5) / 7] * len(snow_hours), s=28, marker=(6, 2, 0),
           color='#e8f8ff', linewidth=0.7, zorder=4)
for h, p in zip(snow_hours, snow_pct):
    ax.text(h - 1.2, (232 - 578) / 7, '%d%%' % p, rotation=90, ha='center', va='bottom',
            fontsize=5, family=MONO, color='#0000ff', zorder=5)

# perturbations
for members, axis in [(t850_members, ax), (t500_members, ax), (precip_members, ax2)]:
    sns.lineplot(data=members_frame(members), x='hour', y='value', hue='member',
                 hue_order=pert_names, palette=pert_colors, legend=False, estimator=None,
                 linewidth=0.9, marker='.', markersize=3.5, markeredgewidth=0, ax=axis, zorder=2)

# GFS, control, mean
for series, axis in [(t850_gfs, ax), (t500_gfs, ax), (precip_gfs, ax2)]:
    sns.lineplot(x=hours_6h, y=series, color='black', linewidth=2.3, ax=axis, zorder=3)
for series, axis in [(t850_control, ax), (t500_control, ax), (precip_control, ax2)]:
    sns.lineplot(x=hours_6h, y=series, color='#0000ff', linewidth=2.3, ax=axis, zorder=4)
for series, axis in [(t850_mean, ax), (t500_mean, ax), (precip_mean, ax2)]:
    sns.lineplot(x=hours_6h, y=series, color='#ff0000', linewidth=3.6, ax=axis, zorder=5)

ax.set_xlim(0, 384)
ax.set_ylim(ylo, yhi)
ax2.set_ylim(ylo + 45, yhi + 45)

# in-plot labels
ax.text(4.8, (232 - 214) / 7, 'Temp. 850hPa', fontsize=7.3, family=MONO, va='center', zorder=6)
ax.text(4.8, (232 - 361) / 7, 'Temp. 500hPa', fontsize=7.3, family=MONO, va='center', zorder=6)
ax.text(4.8, (232 - 480) / 7, 'Précipitations', fontsize=7.3, family=MONO, va='center', zorder=6)

# axes styling
ax.set_xlabel('')
ax.set_ylabel('')
ax2.set_ylabel('')
ax.set_yticks(range(-45, 31, 5))
ax.set_yticklabels([str(v) for v in range(-45, 31, 5)])
ax2.set_yticks(range(0, 76, 5))
ax2.set_yticklabels([str(v) for v in range(0, 76, 5)])
ax.tick_params(axis='y', length=0, pad=13, labelsize=7)
ax2.tick_params(axis='y', length=0, pad=13, labelsize=7)
ax.set_xticks([])
for a in (ax, ax2):
    for s in ('left', 'right', 'top', 'bottom'):
        a.spines[s].set_visible(False)
ax.spines['bottom'].set_visible(True)
ax.spines['bottom'].set_color('black')
ax.spines['bottom'].set_linewidth(1.5)

# date labels
offs = mtransforms.offset_copy(ax.get_xaxis_transform(), fig=fig, x=1.5, y=-3, units='dots')
for i, lab in enumerate(date_labels):
    ax.text(i * 24, 0, lab, rotation=90, ha='left', va='top', fontsize=6.5, family=MONO,
            transform=offs, clip_on=False)

# corner labels
fig.text(fx(20), fy(606), '(°c)', fontsize=7.2, family=MONO, va='center')
fig.text(fx(3), fy(623), 'Alt. 33m', fontsize=6.8, family=MONO, va='center')
fig.text(fx(716), fy(606), '(mm)', fontsize=7.2, family=MONO, va='center')

# legend
fig.add_artist(Line2D([fx(36), fx(64)], [fy(636), fy(636)], color='#ff0000', lw=3.6))
fig.text(fx(75), fy(636), 'Moyenne des scénarios', fontsize=7.2, family=MONO, va='center')
fig.add_artist(Line2D([fx(225), fx(256)], [fy(637), fy(637)], color='#0000ff', lw=3))
fig.text(fx(265), fy(637), 'Run de contrôle', fontsize=7.2, family=MONO, va='center')
fig.add_artist(Line2D([fx(225), fx(256)], [fy(647), fy(647)], color='black', lw=3))
fig.text(fx(265), fy(647), 'Run GFS', fontsize=7.2, family=MONO, va='center')
fig.add_artist(Line2D([fx(58)], [fy(658)], marker='o', markersize=7.5, color='#78c4ee',
                      markeredgecolor='#b8e8ff', lw=0))
fig.add_artist(Line2D([fx(58)], [fy(658)], marker=(6, 2, 0), markersize=5, color='#e8f8ff', lw=0))
fig.text(fx(75), fy(659), 'Risque neige', fontsize=7.2, family=MONO, va='center')
fig.text(fx(340), fy(652), '30 Perts.', fontsize=7.2, family=MONO, va='center')
for i, (name, col) in enumerate(zip(pert_names, pert_colors)):
    x0 = 400 + i * 10.97
    fig.add_artist(Rectangle((fx(x0), fy(656)), 10 / W, 7 / H, color=col, transform=fig.transFigure))
    fig.text(fx(x0 + 5), fy(643), name, fontsize=5.6, family=MONO, weight='bold',
             ha='center', va='center')

# title box
fig.add_artist(Rectangle((fx(20), fy(699)), 420 / W, 33 / H, fill=False, lw=1,
                         edgecolor='black', transform=fig.transFigure))
fig.text(fx(28), fy(677), 'Diagramme des ensembles GEFS sur 384h pour Izmit', fontsize=8.4,
         family=MONO, weight='bold', va='center')
fig.text(fx(28), fy(691), 'Températures 850hPa et 500hPa (°C) , précipitations (mm)', fontsize=7.2,
         family=MONO, va='center')
fig.text(fx(449), fy(676), 'Ensemble GEFS du 15/01/2026 - 00Z', fontsize=7.5, family=MONO, va='center')
fig.text(fx(449), fy(691), 'Copyright 2026 Meteociel.fr', fontsize=8.6, family=MONO, weight='bold',
         va='center')

fig.savefig('out.png', dpi=100)
